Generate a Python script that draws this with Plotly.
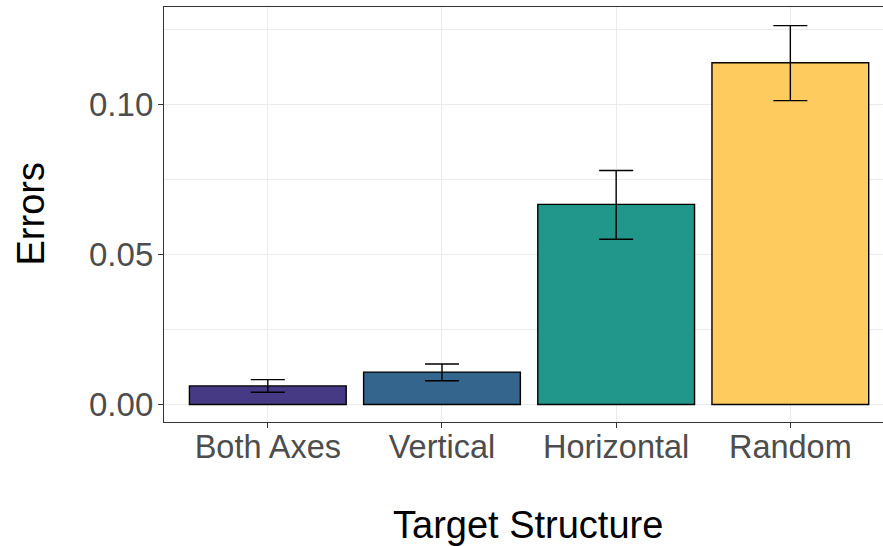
import plotly.graph_objects as go

# Error rate by target structure (mean with standard error)
structures = ["Both Axes", "Vertical", "Horizontal", "Random"]
errors = [0.0062, 0.0108, 0.0667, 0.1139]
se_upper = [0.0021, 0.0027, 0.0113, 0.0124]
se_lower = [0.0021, 0.0029, 0.0116, 0.0126]
bar_colors = ["#473a84", "#33658d", "#21978b", "#fecb5f"]

y_ticks = [0.0, 0.05, 0.10]
y_tick_labels = ["0.00", "0.05", "0.10"]

W, H = 883, 546
ML, MR, MT, MB = 164, 0, 7, 124

fig = go.Figure()
fig.add_trace(go.Bar(
    x=list(range(len(structures))),
    y=errors,
    width=0.9,
    marker=dict(color=bar_colors, line=dict(color="black", width=1.4)),
    error_y=dict(type="data", symmetric=False, array=se_upper, arrayminus=se_lower,
                 color="black", thickness=1.4, width=17),
    showlegend=False,
))

fig.update_layout(
    width=W, height=H,
    margin=dict(l=ML, r=MR, t=MT, b=MB),
    paper_bgcolor="white", plot_bgcolor="white",
    font=dict(family="Liberation Sans, Arial, sans-serif"),
    xaxis=dict(
        range=[-0.596, 3.532],
        tickmode="array", tickvals=list(range(len(structures))), ticktext=structures,
        tickfont=dict(size=32.5, color="#4D4D4D"),
        ticks="outside", ticklen=5, tickwidth=1, tickcolor="#333333",
        ticklabelstandoff=-9,
        showgrid=True, gridcolor="#EBEBEB", gridwidth=1.1,
        showline=True, linecolor="#333333", linewidth=1.3, mirror=True,
        zeroline=False, fixedrange=True,
    ),
    yaxis=dict(
        range=[-0.00583, 0.1325],
        tickmode="array", tickvals=y_ticks, ticktext=y_tick_labels,
        tickfont=dict(size=33, color="#4D4D4D"),
        ticks="outside", ticklen=5, tickwidth=1, tickcolor="#333333",
        ticklabelstandoff=-2,
        showgrid=True, gridcolor="#EBEBEB", gridwidth=1.1,
        minor=dict(tickvals=[0.025, 0.075, 0.125], showgrid=True,
                   gridcolor="#EBEBEB", gridwidth=0.6, ticks=""),
        showline=True, linecolor="#333333", linewidth=1.3, mirror=False,
        zeroline=False, fixedrange=True,
    ),
    annotations=[
        dict(text="Target Structure", xref="paper", yref="paper",
             x=(528 - ML) / (W - ML - MR), y=(MT + (H - MT - MB) - 525) / (H - MT - MB),
             xanchor="center", yanchor="middle", showarrow=False,
             font=dict(size=38, color="black")),
        dict(text="Errors", xref="paper", yref="paper",
             x=(30 - ML) / (W - ML - MR), y=0.5, textangle=-90,
             xanchor="center", yanchor="middle", showarrow=False,
             font=dict(size=38, color="black")),
    ],
)

fig.write_html("out.html")
